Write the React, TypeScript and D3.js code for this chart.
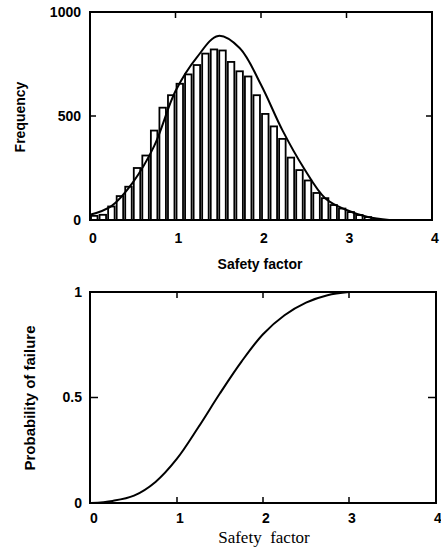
import React from 'react'
import * as d3 from 'd3'

// histogram bins (lower edge of each 0.1-wide bin)
const binStarts = [
  0, 0.1, 0.2, 0.3, 0.4, 0.5, 0.6, 0.7, 0.8, 0.9, 1.0, 1.1, 1.2, 1.3, 1.4, 1.5, 1.6,
  1.7, 1.8, 1.9, 2.0, 2.1, 2.2, 2.3, 2.4, 2.5, 2.6, 2.7, 2.8, 2.9, 3.0, 3.1, 3.2, 3.3
]
const frequencies = [
  20, 25, 65, 115, 160, 250, 310, 430, 540, 600, 655, 700, 745, 800, 820, 815, 760,
  715, 690, 600, 510, 450, 390, 300, 240, 190, 130, 105, 72, 55, 38, 24, 14, 5
]
const binWidth = 0.1

// fitted density curve
const fitX = [0, 0.25, 0.5, 0.75, 1.0, 1.25, 1.5, 1.75, 2.0, 2.25, 2.5, 2.75, 3.0, 3.25, 3.5]
const fitY = [25, 67, 180, 355, 620, 782, 885, 827, 650, 432, 250, 105, 48, 14, 0]

// probability of failure curve
const probX = [0, 0.25, 0.5, 0.75, 1.0, 1.25, 1.5, 1.75, 2.0, 2.25, 2.5, 2.75, 3.0]
const probY = [0, 0.01, 0.035, 0.1, 0.21, 0.36, 0.52, 0.67, 0.8, 0.89, 0.95, 0.985, 1]

const xTicks = [0, 1, 2, 3, 4]
const freqTicks = [0, 500, 1000]
const probTicks = [0, 0.5, 1]

const sans = 'Liberation Sans, Arial, sans-serif'
const serif = 'Liberation Serif, Times New Roman, serif'

const App = () => {
  // top panel
  const x1 = d3.scaleLinear().domain([0, 4]).range([90, 432])
  const y1 = d3.scaleLinear().domain([0, 1000]).range([220, 12])
  // bottom panel
  const x2 = d3.scaleLinear().domain([0, 4]).range([91, 435])
  const y2 = d3.scaleLinear().domain([0, 1]).range([503, 292])

  const fitLine = d3
    .line<number>()
    .x((d, i) => x1(fitX[i]))
    .y(d => y1(d))
    .curve(d3.curveCatmullRom)

  const probLine = d3
    .line<number>()
    .x((d, i) => x2(probX[i]))
    .y(d => y2(d))
    .curve(d3.curveCatmullRom)

  const barPx = x1(binWidth) - x1(0)
  const barW = barPx * 0.76
  const tick = 6

  return (
    <svg width={441} height={558} style={{ position: 'absolute', left: 0, top: 0 }}>
      <rect width={441} height={558} fill='#fff' />

      {/* ---- top panel ---- */}
      <g>
        {binStarts.map((b, i) => (
          <rect
            key={i}
            x={x1(b) + (barPx - barW) / 2}
            y={y1(frequencies[i])}
            width={barW}
            height={y1(0) - y1(frequencies[i])}
            fill='#fff'
            stroke='#000'
            strokeWidth={1.8}
          />
        ))}
        <path d={fitLine(fitY) || ''} fill='none' stroke='#000' strokeWidth={2} />
        <rect x={90} y={12} width={342} height={208} fill='none' stroke='#000' strokeWidth={2} />
        {xTicks.slice(1, 4).map(t => (
          <line key={t} x1={x1(t)} x2={x1(t)} y1={12} y2={12 + tick} stroke='#000' strokeWidth={1.5} />
        ))}
        <line x1={90} x2={90 + tick} y1={y1(500)} y2={y1(500)} stroke='#000' strokeWidth={1.5} />
        <line x1={432 - tick} x2={432} y1={y1(500)} y2={y1(500)} stroke='#000' strokeWidth={1.5} />
        {freqTicks.map(t => (
          <text key={t} x={81} y={y1(t)} dy='0.35em' textAnchor='end' fontFamily={sans} fontWeight='bold' fontSize={14}>
            {t}
          </text>
        ))}
        {xTicks.map(t => (
          <text key={t} x={x1(t) + 3} y={238} dy='0.35em' textAnchor='middle' fontFamily={sans} fontWeight='bold' fontSize={14}>
            {t}
          </text>
        ))}
        <text x={260} y={269} textAnchor='middle' fontFamily={sans} fontWeight='bold' fontSize={14}>
          Safety factor
        </text>
        <text transform='translate(25,117) rotate(-90)' textAnchor='middle' fontFamily={sans} fontWeight='bold' fontSize={14}>
          Frequency
        </text>
      </g>

      {/* ---- bottom panel ---- */}
      <g>
        <path d={probLine(probY) || ''} fill='none' stroke='#000' strokeWidth={2} />
        <rect x={90} y={292} width={346} height={211} fill='none' stroke='#000' strokeWidth={2} />
        {xTicks.slice(1, 4).map(t => (
          <g key={t}>
            <line x1={x2(t)} x2={x2(t)} y1={292} y2={292 + tick} stroke='#000' strokeWidth={1.5} />
            <line x1={x2(t)} x2={x2(t)} y1={503 - tick} y2={503} stroke='#000' strokeWidth={1.5} />
          </g>
        ))}
        <line x1={90} x2={90 + tick + 2} y1={y2(0.5)} y2={y2(0.5)} stroke='#000' strokeWidth={1.5} />
        <line x1={436 - tick - 2} x2={436} y1={y2(0.5)} y2={y2(0.5)} stroke='#000' strokeWidth={1.5} />
        {probTicks.map(t => (
          <text key={t} x={82} y={y2(t)} dy='0.35em' textAnchor='end' fontFamily={sans} fontWeight='bold' fontSize={14}>
            {t}
          </text>
        ))}
        {xTicks.map(t => (
          <text key={t} x={x2(t) + 3} y={518} dy='0.35em' textAnchor='middle' fontFamily={sans} fontWeight='bold' fontSize={14}>
            {t}
          </text>
        ))}
        <text x={264} y={543} textAnchor='middle' fontFamily={serif} fontSize={17} style={{ whiteSpace: 'pre' }}>
          Safety  factor
        </text>
        <text transform='translate(35,398) rotate(-90)' textAnchor='middle' fontFamily={sans} fontWeight='bold' fontSize={15}>
          Probability of failure
        </text>
      </g>
    </svg>
  )
}

export default App
